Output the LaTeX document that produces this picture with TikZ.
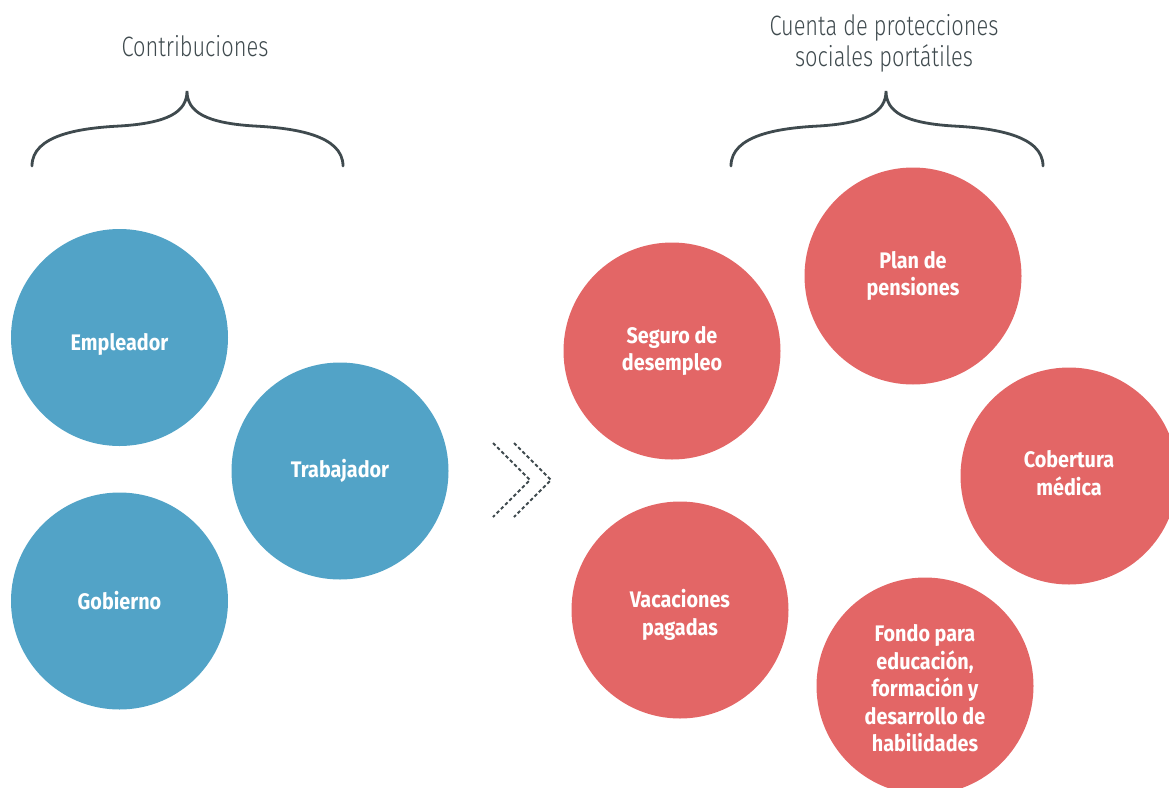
\documentclass[tikz,border=0pt]{standalone}
\usepackage{fontspec}
\setmainfont{Fira Sans}[FakeStretch=0.88]
\newfontfamily\thinfont{Fira Sans Light}[FakeStretch=0.78]
\definecolor{cblue}{HTML}{52A3C7}
\definecolor{cred}{HTML}{E36666}
\definecolor{cdark}{HTML}{3F4A4E}
\begin{document}
\begin{tikzpicture}[x=1pt,y=-1pt,
  bubble/.style={circle,minimum size=217pt,inner sep=0pt,text=white,
    font=\fontsize{22.5}{27.5}\selectfont\bfseries,align=center},
  bubtext/.style={text=white,font=\fontsize{22.5}{27.5}\selectfont\bfseries,align=center,inner sep=0pt},
  bluebub/.style={bubble,fill=cblue},
  redbub/.style={bubble,fill=cred},
  heading/.style={text=cdark,font=\thinfont\fontsize{28}{31}\selectfont,align=center,inner sep=0pt},
  bracestyle/.style={draw=cdark,line width=2.8pt,line cap=round},
  chev/.style={draw=cdark,line width=1.8pt,dash pattern=on 3.5pt off 2.5pt}]
\useasboundingbox (0,0) rectangle (1169,787);
\clip (0,0) rectangle (1169,787);
% headings
\node[heading] (hcontrib) at (195,46) {Contribuciones};
\node[heading] (hcuenta) at (884,43) {Cuenta de protecciones\\sociales portátiles};
% braces
\coordinate (lbL) at (32,166);
\coordinate (lbT) at (187,91);
\coordinate (lbR) at (343,166);
\draw[bracestyle] (lbL) .. controls (32,135) and (80,128) .. (120,126)
  .. controls (168,123) and (187,112) .. (lbT)
  .. controls (187,112) and (206,123) .. (254,126)
  .. controls (294,128) and (343,135) .. (lbR);
\coordinate (rbL) at (731,166);
\coordinate (rbT) at (886,91);
\coordinate (rbR) at (1043,166);
\draw[bracestyle] (rbL) .. controls (731,135) and (779,128) .. (819,126)
  .. controls (867,123) and (886,112) .. (rbT)
  .. controls (886,112) and (905,123) .. (953,126)
  .. controls (993,128) and (1043,135) .. (rbR);
% blue circles
\node[bluebub] (empleador) at (119.5,337.5) {};
\node[bubtext] (empleadortxt) at ([yshift=-6.5pt]empleador.center) {Empleador};
\node[bluebub] (trabajador) at (340,471) {Trabajador};
\node[bluebub] (gobierno) at (119.5,601) {Gobierno};
% chevrons
\coordinate (c1a) at (493,443);
\coordinate (c1b) at (530,480);
\coordinate (c1c) at (493,517);
\coordinate (c2a) at (514,443);
\coordinate (c2b) at (551,480);
\coordinate (c2c) at (514,517);
\draw[chev] (c1a) -- (c1b) -- (c1c);
\draw[chev] (c2a) -- (c2b) -- (c2c);
% red circles
\node[redbub] (seguro) at (672,351) {Seguro de\\desempleo};
\node[redbub] (plan) at (913,276) {Plan de\\pensiones};
\node[redbub] (cobertura) at (1069,476) {};
\node[bubtext] (coberturatxt) at ([yshift=3pt]cobertura.center) {Cobertura\\médica};
\node[redbub] (vacaciones) at (680,610) {};
\node[bubtext] (vacacionestxt) at ([yshift=-5pt]vacaciones.center) {Vacaciones\\pagadas};
\node[redbub] (fondo) at (925,686) {};
\node[bubtext] (fondotxt) at ([yshift=-2.5pt]fondo.center) {Fondo para\\educación,\\formación y\\desarrollo de\\habilidades};
\end{tikzpicture}
\end{document}
